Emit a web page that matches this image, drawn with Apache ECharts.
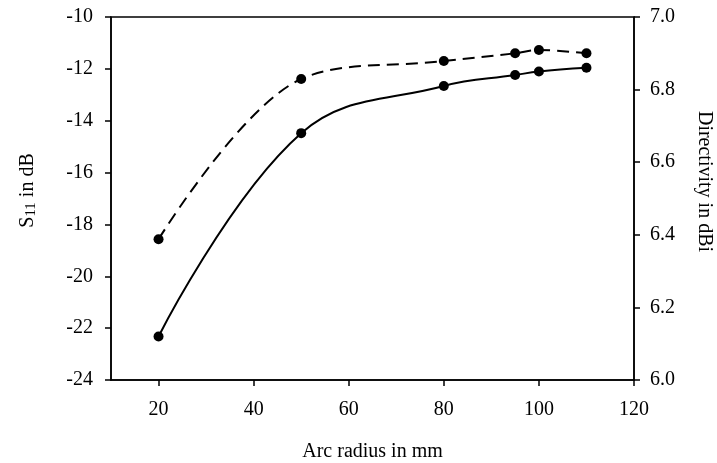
<!DOCTYPE html>
<html>
<head>
<meta charset="utf-8">
<script src="https://cdn.jsdelivr.net/npm/echarts@6/dist/echarts.min.js"></script>
<style>html,body{margin:0;padding:0;background:#fff}#c{width:717px;height:463px}</style>
</head>
<body>
<div id="c"></div>
<script>
const arcRadius = [20, 50, 80, 95, 100, 110];
const s11 = [-18.57, -12.39, -11.70, -11.40, -11.27, -11.40];
const directivity = [6.12, 6.68, 6.81, 6.84, 6.85, 6.86];
const xTicks = [20, 40, 60, 80, 100, 120];

const font = 'Liberation Serif';
const fs = 20;
const chart = echarts.init(document.getElementById('c'));
const axisLine = { show: true, lineStyle: { color: '#000', width: 1.5 } };
const axisTick = { show: true, inside: false, length: 6, lineStyle: { color: '#000', width: 1.5 } };
chart.setOption({
  animation: false,
  backgroundColor: '#fff',
  grid: { left: 111, right: 83, top: 17, bottom: 83, containLabel: false, outerBoundsMode: 'none',
          show: true, borderColor: '#000', borderWidth: 1.5 },
  xAxis: {
    type: 'value', min: 10, max: 120,
    name: 'Arc radius in mm', nameLocation: 'middle', nameGap: 62,
    nameTextStyle: { fontFamily: font, fontSize: fs, color: '#000' },
    axisLine: axisLine,
    axisTick: Object.assign({ customValues: xTicks }, axisTick),
    axisLabel: { customValues: xTicks, margin: 20, fontFamily: font, fontSize: fs, color: '#000' },
    splitLine: { show: false }
  },
  yAxis: [{
    type: 'value', min: -24, max: -10, interval: 2, position: 'left',
    name: '{a|S}{b|11}{a| in dB}', nameLocation: 'middle', nameGap: 72, nameRotate: 90,
    nameTextStyle: { fontFamily: font, fontSize: fs, color: '#000', padding: [0, 0, 0, 16],
      rich: { a: { fontFamily: font, fontSize: fs, color: '#000' },
              b: { fontFamily: font, fontSize: 15, color: '#000', padding: [8, 0, 0, 0] } } },
    axisLine: axisLine, axisTick: axisTick,
    axisLabel: { margin: 18, fontFamily: font, fontSize: fs, color: '#000' },
    splitLine: { show: false }
  }, {
    type: 'value', min: 6, max: 7, interval: 0.2, position: 'right',
    name: 'Directivity in dBi', nameLocation: 'middle', nameGap: 60, nameRotate: -90,
    nameTextStyle: { fontFamily: font, fontSize: fs, color: '#000', padding: [0, 34, 0, 0] },
    axisLine: axisLine, axisTick: axisTick,
    axisLabel: { margin: 16, fontFamily: font, fontSize: fs, color: '#000', formatter: v => v.toFixed(1) },
    splitLine: { show: false }
  }],
  series: [{
    type: 'line', yAxisIndex: 0, smooth: 0.35,
    data: arcRadius.map((x, i) => [x, s11[i]]),
    symbol: 'circle', symbolSize: 10,
    itemStyle: { color: '#000' },
    lineStyle: { color: '#000', width: 2, type: [12, 7] }
  }, {
    type: 'line', yAxisIndex: 1, smooth: 0.4,
    data: arcRadius.map((x, i) => [x, directivity[i]]),
    symbol: 'circle', symbolSize: 10,
    itemStyle: { color: '#000' },
    lineStyle: { color: '#000', width: 2 }
  }]
});
</script>
</body>
</html>
